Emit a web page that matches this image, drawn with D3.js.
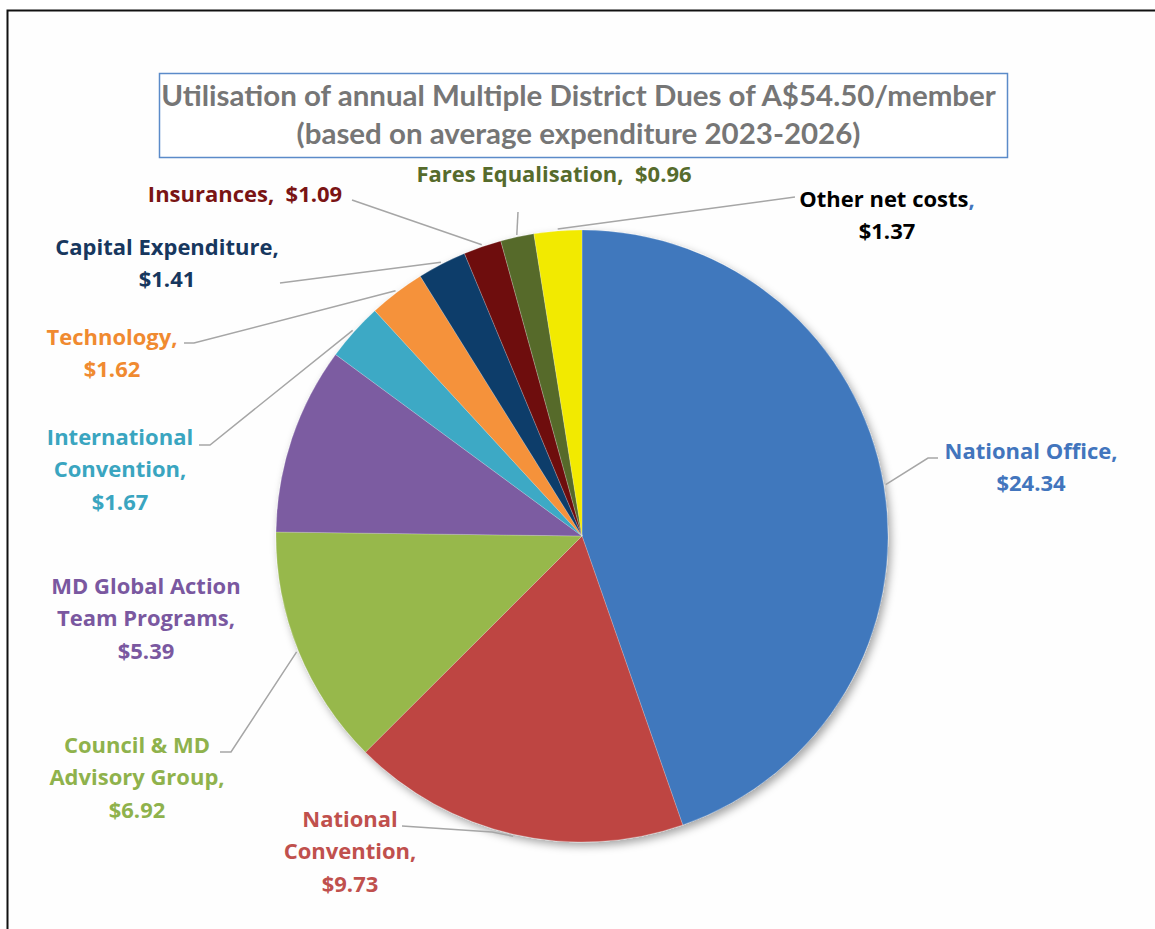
<!DOCTYPE html>
<html>
<head>
<meta charset="utf-8">
<script src="https://cdn.jsdelivr.net/npm/d3@7/dist/d3.min.js"></script>
<style>
  html, body { margin: 0; padding: 0; background: #fff; }
  svg { display: block; font-family: Lato, "Open Sans", sans-serif; }
  text { white-space: pre; }
</style>
</head>
<body>
<div id="chart"></div>
<script>
// slice data, clockwise from 12 o'clock
const categories = [
  "National Office", "National Convention", "Council & MD Advisory Group",
  "MD Global Action Team Programs", "International Convention", "Technology",
  "Capital Expenditure", "Insurances", "Fares Equalisation", "Other net costs"
];
const values = [24.34, 9.73, 6.92, 5.39, 1.67, 1.62, 1.41, 1.09, 0.96, 1.37];
// how each label is broken over lines ("{v}" is the value)
const labelLines = [
  ["National Office,", "{v}"],
  ["National", "Convention,", "{v}"],
  ["Council & MD", "Advisory Group,", "{v}"],
  ["MD Global Action", "Team Programs,", "{v}"],
  ["International", "Convention,", "{v}"],
  ["Technology,", "{v}"],
  ["Capital Expenditure,", "{v}"],
  ["Insurances,  {v}"],
  ["Fares Equalisation,  {v}"],
  ["Other net costs,", "{v}"]
];
const titleLines = [
  "Utilisation of annual Multiple District Dues of A$54.50/member",
  "(based on average expenditure 2023-2026)"
];

// styling / layout
const colors = ["#3f78bd", "#be4542", "#97b84c", "#7b5ba1", "#3da9c5",
                "#f5923a", "#0f3e6b", "#6e0f0f", "#566b2c", "#f2ea00"];
const textColors = ["#4275bd", "#c0504d", "#8fb24c", "#7a58a0", "#3aa5c0",
                    "#f08a30", "#17375e", "#7a1414", "#566b2c", "#000"];
// label centre (x, y of first line) and leader line waypoints (label side)
const labelPos = [
  { x: 1031, y: 451, lead: [[938, 458], [928, 458]] },
  { x: 350, y: 819, lead: [[402, 826], [492, 832]] },
  { x: 137, y: 745, lead: [[220, 752], [231, 752]] },
  { x: 146, y: 586, lead: null },
  { x: 120, y: 437, lead: [[199, 445], [210, 445]] },
  { x: 112, y: 337, lead: [[184, 343], [194, 343]] },
  { x: 167, y: 247, lead: [[280, 283]] },
  { x: 245, y: 194, lead: [[352, 200]] },
  { x: 554, y: 174, lead: [[518, 212]] },
  { x: 887, y: 199, lead: [[795, 197]] }
];

const W = 1155, H = 929;
const cx = 582, cy = 536, R = 306;
const lineH = 32.5;

const svg = d3.select("#chart").append("svg")
  .attr("width", W).attr("height", H);

// outer frame (right/bottom edges run off the picture)
svg.append("rect")
  .attr("x", 7.5).attr("y", 10.5).attr("width", W + 20).attr("height", H + 20)
  .attr("fill", "#fefefe").attr("stroke", "#111").attr("stroke-width", 2);

const defs = svg.append("defs");
const shadow = defs.append("filter").attr("id", "shadow")
  .attr("x", "-10%").attr("y", "-10%").attr("width", "125%").attr("height", "125%");
shadow.append("feDropShadow")
  .attr("dx", 3).attr("dy", 4).attr("stdDeviation", 4)
  .attr("flood-color", "#000").attr("flood-opacity", 0.35);

// title box
const titleBox = { x: 159.5, y: 73.5, w: 848, h: 84 };
svg.append("rect")
  .attr("x", titleBox.x).attr("y", titleBox.y)
  .attr("width", titleBox.w).attr("height", titleBox.h)
  .attr("fill", "#fff").attr("stroke", "#5b8bc9").attr("stroke-width", 1.5);

const title = svg.append("text")
  .attr("text-anchor", "middle")
  .attr("font-weight", "bold")
  .attr("fill", "#767676")
  .attr("font-size", 100);
titleLines.forEach((t, i) => {
  title.append("tspan").attr("x", W / 2 + 1).attr("y", 106 + i * 38).text(t);
});
// scale title so first line spans the same width as the original
const firstW = title.select("tspan").node().getComputedTextLength();
title.attr("font-size", 100 * 835 / firstW);

// pie
const pie = d3.pie().sort(null).value(d => d);
const arcs = pie(values);
const arc = d3.arc().innerRadius(0).outerRadius(R);
const edge = d3.arc().innerRadius(R + 2).outerRadius(R + 2);

const g = svg.append("g").attr("transform", `translate(${cx},${cy})`);
g.append("g").attr("filter", "url(#shadow)")
  .selectAll("path")
  .data(arcs)
  .join("path")
  .attr("d", arc)
  .attr("fill", (d, i) => colors[i])
  .attr("stroke", "rgba(255,255,255,0.35)")
  .attr("stroke-width", 0.6);

// leader lines
const line = d3.line();
svg.append("g")
  .selectAll("path")
  .data(arcs.filter((d, i) => labelPos[i].lead))
  .join("path")
  .attr("d", d => {
    const p = edge.centroid(d);
    const pts = labelPos[d.index].lead.concat([[p[0] + cx, p[1] + cy]]);
    return line(pts);
  })
  .attr("fill", "none")
  .attr("stroke", "#a6a6a6")
  .attr("stroke-width", 1.5);

// labels
const fmt = d3.format("$.2f");
const labels = svg.append("g")
  .attr("font-family", "'Open Sans', sans-serif")
  .attr("font-size", 100)
  .attr("font-weight", "bold")
  .attr("text-anchor", "middle");

arcs.forEach((d, i) => {
  const pos = labelPos[i];
  const t = labels.append("text").attr("fill", textColors[i]);
  labelLines[i].forEach((s, k) => {
    const txt = s.replace("{v}", fmt(values[i]));
    const ts = t.append("tspan")
      .attr("x", pos.x)
      .attr("y", pos.y + k * lineH)
      .attr("dy", "0.35em");
    if (i === 9 && k === 0) {
      // the comma after "Other net costs" is blue in the original
      ts.text(txt.slice(0, -1));
      ts.append("tspan").attr("fill", "#4275bd").text(",");
    } else {
      ts.text(txt);
    }
  });
});
// size labels so "National Office," is as wide as in the original (173px)
const refW = labels.select("text tspan").node().getComputedTextLength();
labels.attr("font-size", 100 * 173 / refW);
</script>
</body>
</html>
